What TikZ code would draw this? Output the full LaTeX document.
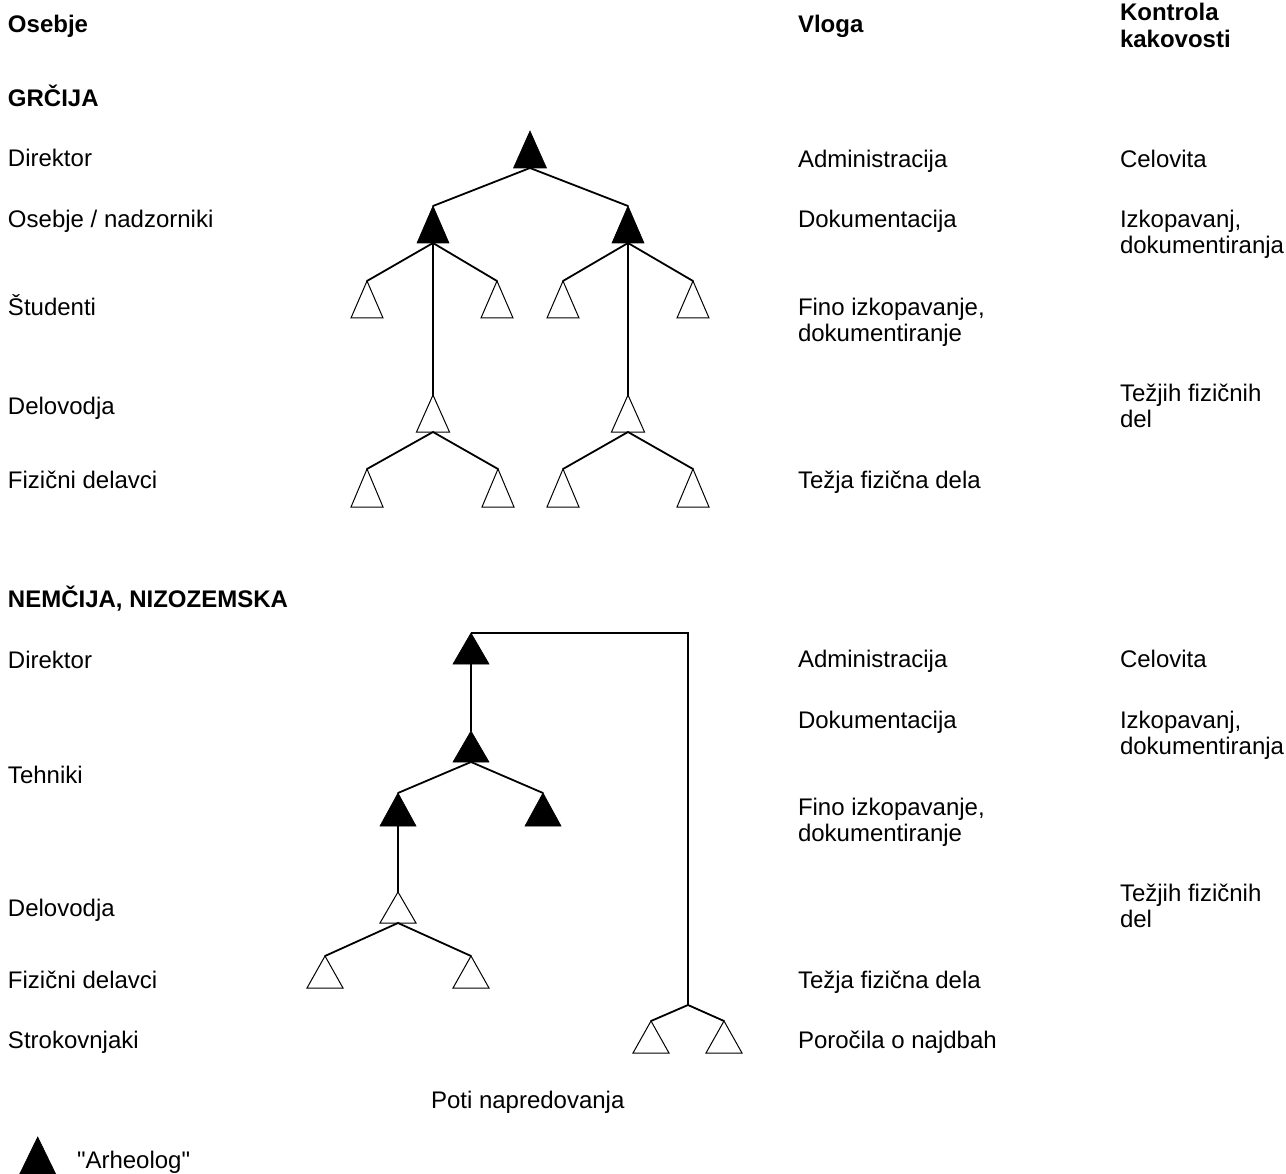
\documentclass[tikz,border=0pt]{standalone}
\usepackage{fontspec}
\setmainfont{Liberation Sans}[Ligatures=TeXOff]
\begin{document}
\begin{tikzpicture}[x=1pt,y=-1pt,
  lbl/.style={anchor=base west,inner sep=0pt,outer sep=0pt,align=left,font=\fontsize{24}{26}\selectfont},
  hdr/.style={lbl,font=\fontsize{24}{27}\selectfont\bfseries},
  conn/.style={line width=1.8pt,line cap=round,line join=round},
  blk/.style={fill=black,draw=black,line width=0.6pt},
  hol/.style={fill=white,draw=black,line width=1pt,line join=miter}]
\useasboundingbox (0,0) rectangle (1286,1174);
\fill[white] (0,0) rectangle (1286,1174);
% #1 name, #2 x, #3 apex y, #4 width, #5 height, #6 style
\newcommand{\mytri}[6]{%
  \coordinate (#1) at (#2,#3);
  \coordinate (#1b) at (#2,#3+#5);
  \path[#6] (#2,#3) -- (#2-#4/2,#3+#5) -- (#2+#4/2,#3+#5) -- cycle;}

% ---------- headers (multi-line nodes: base = last line) ----------
\node[hdr] (hOsebje) at (8,33) {Osebje};
\node[hdr] (hVloga) at (798,33) {Vloga};
\node[hdr] (hKontrola) at (1120,48) {Kontrola\\kakovosti};
\node[hdr] (hGr) at (8,107) {GRČIJA};
\node[hdr] (hNem) at (8,607) {NEMČIJA, NIZOZEMSKA};

% ---------- Greece labels ----------
\node[lbl] (g1) at (8,167) {Direktor};
\node[lbl] (g2) at (8,228) {Osebje / nadzorniki};
\node[lbl] (g3) at (8,316) {Študenti};
\node[lbl] (g4) at (8,415) {Delovodja};
\node[lbl] (g5) at (8,488) {Fizični delavci};
\node[lbl] (gv1) at (798,168) {Administracija};
\node[lbl] (gv2) at (798,228) {Dokumentacija};
\node[lbl] (gv3) at (798,342) {Fino izkopavanje,\\dokumentiranje};
\node[lbl] (gv5) at (798,488) {Težja fizična dela};
\node[lbl] (gk1) at (1120,168) {Celovita};
\node[lbl] (gk2) at (1120,254) {Izkopavanj,\\dokumentiranja};
\node[lbl] (gk4) at (1120,428) {Težjih fizičnih\\del};

% ---------- Germany labels ----------
\node[lbl] (n1) at (8,668) {Direktor};
\node[lbl] (n2) at (8,783) {Tehniki};
\node[lbl] (n3) at (8,916) {Delovodja};
\node[lbl] (n4) at (8,988) {Fizični delavci};
\node[lbl] (n5) at (8,1048) {Strokovnjaki};
\node[lbl] (nv1) at (798,667) {Administracija};
\node[lbl] (nv2) at (798,728) {Dokumentacija};
\node[lbl] (nv3) at (798,841) {Fino izkopavanje,\\dokumentiranje};
\node[lbl] (nv4) at (798,988) {Težja fizična dela};
\node[lbl] (nv5) at (798,1048) {Poročila o najdbah};
\node[lbl] (nk1) at (1120,667) {Celovita};
\node[lbl] (nk2) at (1120,754) {Izkopavanj,\\dokumentiranja};
\node[lbl] (nk4) at (1120,927) {Težjih fizičnih\\del};

\node[lbl] (poti) at (431,1108) {Poti napredovanja};
\node[lbl] (leg) at (77,1168) {"Arheolog"};

% ---------- Greece tree ----------
\mytri{r}{530}{131}{33}{37}{blk}
\mytri{a}{433}{206}{32}{37}{blk}
\mytri{b}{628}{206}{32}{37}{blk}
\mytri{a1}{367}{281}{32}{37}{hol}
\mytri{a2}{497}{281}{32}{37}{hol}
\mytri{b1}{563}{281}{32}{37}{hol}
\mytri{b2}{693}{281}{32}{37}{hol}
\mytri{a3}{433}{395}{33}{37}{hol}
\mytri{b3}{628}{395}{33}{37}{hol}
\mytri{a31}{367}{469}{32}{38}{hol}
\mytri{a32}{498}{469}{32}{38}{hol}
\mytri{b31}{563}{469}{32}{38}{hol}
\mytri{b32}{693}{469}{32}{38}{hol}
\draw[conn] (a) -- (rb) -- (b);
\draw[conn] (a1) -- (ab) -- (a2);
\draw[conn] (ab) -- (a3);
\draw[conn] (b1) -- (bb) -- (b2);
\draw[conn] (bb) -- (b3);
\draw[conn] (a31) -- (a3b) -- (a32);
\draw[conn] (b31) -- (b3b) -- (b32);

% ---------- Germany tree ----------
\mytri{R}{471}{633}{36}{31}{blk}
\mytri{S}{471}{731}{36}{31}{blk}
\mytri{T1}{398}{793}{36}{33}{blk}
\mytri{T2}{543}{793}{36}{33}{blk}
\mytri{U}{398}{892}{36}{31}{hol}
\mytri{U1}{325}{956}{36}{32}{hol}
\mytri{U2}{471}{956}{36}{32}{hol}
\mytri{V1}{651}{1021}{36}{32}{hol}
\mytri{V2}{724}{1021}{36}{32}{hol}
\coordinate (corner) at (688,633);
\coordinate (vj) at (688,1005);
\draw[conn,line cap=butt,line join=miter] (R) -- (corner) -- (vj);
\draw[conn] (V1) -- (vj) -- (V2);
\draw[conn] (Rb) -- (S);
\draw[conn] (T1) -- (Sb) -- (T2);
\draw[conn] (T1b) -- (U);
\draw[conn] (U1) -- (Ub) -- (U2);

% ---------- legend ----------
\mytri{L}{37.7}{1137}{37}{38}{blk}
\end{tikzpicture}
\end{document}
